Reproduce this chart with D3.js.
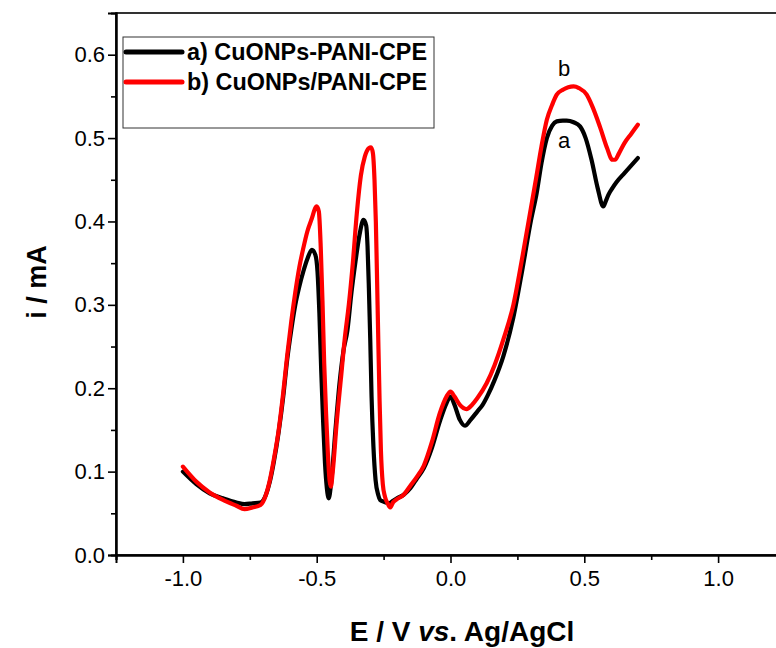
<!DOCTYPE html>
<html>
<head>
<meta charset="utf-8">
<script src="https://cdn.jsdelivr.net/npm/d3@7/dist/d3.min.js"></script>
<style>
  html, body { margin: 0; padding: 0; background: #fff; }
  svg { display: block; font-family: Arial, "Liberation Sans", sans-serif; }
</style>
</head>
<body>
<svg id="chart" width="776" height="648"></svg>
<script>
// Differential pulse voltammograms: potential (V vs. Ag/AgCl) and current (mA)
const potentialA = [-1.0,-0.95,-0.9,-0.85,-0.8,-0.77,-0.74,-0.71,-0.69,-0.675,-0.66,-0.642,-0.625,-0.61,-0.595,-0.58,-0.565,-0.55,-0.535,-0.518,-0.505,-0.497,-0.49,-0.483,-0.476,-0.469,-0.462,-0.455,-0.445,-0.43,-0.415,-0.4,-0.385,-0.37,-0.355,-0.34,-0.325,-0.315,-0.31,-0.305,-0.3,-0.295,-0.288,-0.28,-0.27,-0.263,-0.25,-0.23,-0.215,-0.2,-0.176,-0.15,-0.125,-0.1,-0.07,-0.04,-0.015,0.0,0.015,0.035,0.054,0.075,0.1,0.12,0.14,0.165,0.197,0.235,0.27,0.3,0.322,0.34,0.36,0.38,0.397,0.42,0.434,0.46,0.484,0.505,0.527,0.55,0.571,0.58,0.59,0.605,0.62,0.65,0.7];
const currentA = [0.100,0.085,0.074,0.068,0.063,0.061,0.062,0.063,0.072,0.088,0.112,0.148,0.190,0.235,0.270,0.300,0.322,0.340,0.355,0.366,0.360,0.340,0.290,0.220,0.160,0.110,0.080,0.068,0.090,0.150,0.205,0.245,0.270,0.315,0.352,0.384,0.402,0.395,0.370,0.320,0.260,0.190,0.130,0.090,0.072,0.066,0.064,0.062,0.065,0.068,0.072,0.080,0.092,0.104,0.128,0.160,0.182,0.190,0.180,0.162,0.155,0.162,0.172,0.180,0.192,0.210,0.238,0.285,0.345,0.400,0.434,0.470,0.500,0.515,0.520,0.521,0.521,0.519,0.514,0.500,0.474,0.440,0.418,0.424,0.432,0.440,0.447,0.458,0.476];

const potentialB = [-1.0,-0.95,-0.9,-0.85,-0.8,-0.77,-0.74,-0.71,-0.69,-0.675,-0.66,-0.642,-0.625,-0.61,-0.595,-0.58,-0.565,-0.55,-0.535,-0.52,-0.5,-0.492,-0.485,-0.478,-0.472,-0.465,-0.458,-0.452,-0.447,-0.44,-0.425,-0.41,-0.395,-0.38,-0.365,-0.35,-0.335,-0.32,-0.305,-0.297,-0.29,-0.284,-0.279,-0.275,-0.27,-0.265,-0.26,-0.253,-0.245,-0.235,-0.225,-0.215,-0.2,-0.176,-0.15,-0.125,-0.1,-0.07,-0.04,-0.015,0.0,0.015,0.035,0.06,0.08,0.1,0.135,0.165,0.197,0.235,0.27,0.3,0.32,0.34,0.36,0.38,0.397,0.42,0.44,0.46,0.48,0.509,0.53,0.558,0.585,0.605,0.615,0.63,0.65,0.675,0.7];
const currentB = [0.106,0.088,0.075,0.066,0.059,0.055,0.057,0.060,0.072,0.090,0.115,0.150,0.195,0.240,0.280,0.315,0.345,0.368,0.388,0.402,0.418,0.412,0.370,0.300,0.230,0.170,0.120,0.090,0.082,0.100,0.160,0.210,0.260,0.300,0.350,0.410,0.455,0.478,0.488,0.489,0.482,0.450,0.400,0.340,0.260,0.185,0.125,0.085,0.070,0.062,0.057,0.063,0.067,0.072,0.083,0.094,0.107,0.135,0.170,0.190,0.196,0.190,0.180,0.175,0.180,0.188,0.206,0.228,0.258,0.300,0.360,0.415,0.452,0.490,0.522,0.540,0.552,0.558,0.561,0.562,0.560,0.552,0.538,0.514,0.488,0.474,0.474,0.482,0.494,0.505,0.516];

const seriesNames = ["a) CuONPs-PANI-CPE", "b) CuONPs/PANI-CPE"];
const seriesColors = ["#000000", "#ff0000"];
const xMajorTicks = [-1.0, -0.5, 0.0, 0.5, 1.0];
const xMinorTicks = [-1.25, -0.75, -0.25, 0.25, 0.75, 1.25];
const yMajorTicks = [0.0, 0.1, 0.2, 0.3, 0.4, 0.5, 0.6];
const yMinorTicks = [0.05, 0.15, 0.25, 0.35, 0.45, 0.55];
const curveLabels = [{text: "b", x: 0.425, y: 0.575}, {text: "a", x: 0.425, y: 0.488}];

(function draw() {
  const svg = d3.select("#chart");
  const pL = 116, pR = 785, pT = 13, pB = 555;

  const x = d3.scaleLinear().domain([-1.25, 1.25]).range([pL, pR]);
  const y = d3.scaleLinear().domain([0, 0.65]).range([pB, pT]);

  // frame
  svg.append("rect")
    .attr("x", pL).attr("y", pT)
    .attr("width", pR - pL).attr("height", pB - pT)
    .attr("fill", "none").attr("stroke", "#000").attr("stroke-width", 1.6);

  // bottom axis
  svg.append("g").attr("transform", `translate(0,${pB})`)
    .call(d3.axisBottom(x).tickValues(xMajorTicks).tickSize(8).tickPadding(7)
      .tickFormat(d => d3.format(".1f")(d).replace("\u2212", "-")));
  svg.append("g").attr("transform", `translate(0,${pB})`)
    .call(d3.axisBottom(x).tickValues(xMinorTicks).tickSize(5).tickFormat(""));

  // left axis
  svg.append("g").attr("transform", `translate(${pL},0)`)
    .call(d3.axisLeft(y).tickValues(yMajorTicks).tickSize(8).tickPadding(3)
      .tickFormat(d3.format(".1f")));
  svg.append("g").attr("transform", `translate(${pL},0)`)
    .call(d3.axisLeft(y).tickValues(yMinorTicks).tickSize(5).tickFormat(""));

  svg.selectAll(".domain").attr("stroke-width", 2);
  svg.selectAll(".tick line").attr("stroke-width", 1.6);
  svg.selectAll(".tick text")
    .attr("font-size", 22).attr("fill", "#000")
    .attr("font-family", "Arial, 'Liberation Sans', sans-serif");

  // curves
  const line = d3.line()
    .x(d => x(d[0])).y(d => y(d[1]))
    .curve(d3.curveMonotoneX);

  const dataA = potentialA.map((v, i) => [v, currentA[i]]);
  const dataB = potentialB.map((v, i) => [v, currentB[i]]);

  [dataA, dataB].forEach((data, k) => {
    svg.append("path")
      .datum(data)
      .attr("d", line)
      .attr("fill", "none")
      .attr("stroke", seriesColors[k])
      .attr("stroke-width", 4.2)
      .attr("stroke-linejoin", "round")
      .attr("stroke-linecap", "round");
  });

  // curve labels
  svg.selectAll(".clabel").data(curveLabels).enter().append("text")
    .attr("class", "clabel")
    .attr("x", d => x(d.x)).attr("y", d => y(d.y))
    .attr("text-anchor", "middle")
    .attr("font-size", 22)
    .attr("fill", "#000")
    .text(d => d.text);

  // legend
  const legend = svg.append("g");
  legend.append("rect")
    .attr("x", 123).attr("y", 37).attr("width", 311).attr("height", 91)
    .attr("fill", "#fff").attr("stroke", "#333").attr("stroke-width", 1);
  seriesNames.forEach((name, k) => {
    const ly = 52 + k * 30;
    legend.append("line")
      .attr("x1", 126).attr("x2", 182).attr("y1", ly).attr("y2", ly)
      .attr("stroke", seriesColors[k]).attr("stroke-width", 5)
      .attr("stroke-linecap", "round");
    legend.append("text")
      .attr("x", 187).attr("y", ly + 8)
      .attr("font-size", 23.4).attr("font-weight", "bold")
      .attr("fill", "#000")
      .text(name);
  });

  // axis titles
  svg.append("text")
    .attr("transform", "translate(46,282) rotate(-90)")
    .attr("text-anchor", "middle")
    .attr("font-size", 27).attr("font-weight", "bold")
    .text("i / mA");

  const xt = svg.append("text")
    .attr("x", 462).attr("y", 641)
    .attr("text-anchor", "middle")
    .attr("font-size", 28).attr("font-weight", "bold");
  xt.append("tspan").text("E / V ");
  xt.append("tspan").attr("font-style", "italic").text("vs");
  xt.append("tspan").text(". Ag/AgCl");
})();
</script>
</body>
</html>
